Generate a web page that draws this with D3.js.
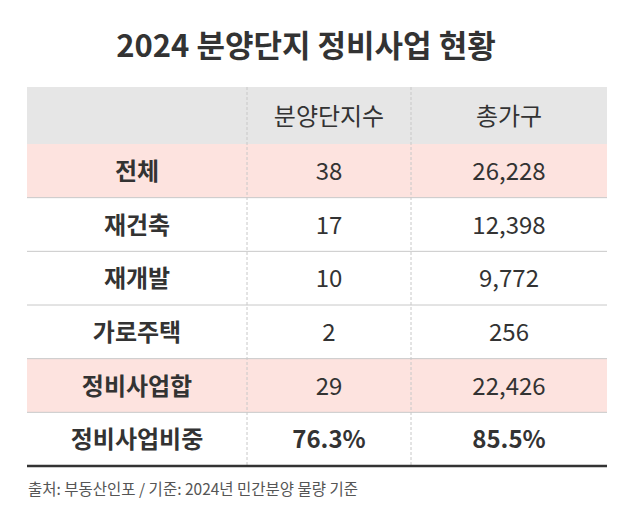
<!DOCTYPE html>
<html><head><meta charset="utf-8">
<script src="https://cdn.jsdelivr.net/npm/d3@7"></script>
<style>body{margin:0;background:#fff;font-family:"Noto Sans CJK KR","Noto Sans",sans-serif;}</style>
</head><body>
<script>
const title = "2024 분양단지 정비사업 현황";
const headers = ["", "분양단지수", "총가구"];
const rowLabels = ["전체", "재건축", "재개발", "가로주택", "정비사업합", "정비사업비중"];
const complexes = ["38", "17", "10", "2", "29", "76.3%"];
const households = ["26,228", "12,398", "9,772", "256", "22,426", "85.5%"];
const highlighted = ["전체", "정비사업합"];
const source = "출처: 부동산인포 / 기준: 2024년 민간분양 물량 기준";

const W = 636, H = 519;
const svg = d3.select("body").append("svg").attr("width", W).attr("height", H);

const x0 = 27, x1 = 607, tableTop = 87, headBottom = 144, tableBottom = 466;
const colEdges = [x0, 247, 411, x1];
const y = d3.scaleBand().domain(rowLabels).range([headBottom, tableBottom]);

svg.append("text").attr("x", 306).attr("y", 57).attr("text-anchor", "middle")
  .attr("font-size", 31).attr("font-weight", 700).attr("fill", "#333").text(title);

// header background
svg.append("rect").attr("x", x0).attr("y", tableTop).attr("width", x1 - x0)
  .attr("height", headBottom - tableTop).attr("fill", "#e6e6e6");

// row backgrounds
svg.selectAll(".rowbg").data(rowLabels).enter().append("rect")
  .attr("x", x0).attr("y", d => y(d)).attr("width", x1 - x0).attr("height", y.bandwidth())
  .attr("fill", d => highlighted.includes(d) ? "#fde3df" : "#fff");

// row lines
svg.selectAll(".rowline").data(rowLabels.slice(0, -1)).enter().append("line")
  .attr("x1", x0).attr("x2", x1)
  .attr("y1", d => y(d) + y.bandwidth()).attr("y2", d => y(d) + y.bandwidth())
  .attr("stroke", "#c8c8c8").attr("stroke-width", 1);

// dashed column separators
svg.selectAll(".colline").data(colEdges.slice(1, 3)).enter().append("line")
  .attr("x1", d => d).attr("x2", d => d).attr("y1", tableTop).attr("y2", tableBottom)
  .attr("stroke", "#c8c8c8").attr("stroke-dasharray", "3,2");

svg.append("line").attr("x1", x0).attr("x2", x1).attr("y1", tableBottom).attr("y2", tableBottom)
  .attr("stroke", "#333").attr("stroke-width", 2.5);

const cx = i => (colEdges[i] + colEdges[i + 1]) / 2;

svg.selectAll(".head").data(headers).enter().append("text")
  .attr("x", (d, i) => cx(i)).attr("y", (tableTop + headBottom) / 2 + 9)
  .attr("text-anchor", "middle").attr("font-size", 24).attr("fill", "#333").text(d => d);

rowLabels.forEach((lab, r) => {
  const last = r === rowLabels.length - 1;
  [lab, complexes[r], households[r]].forEach((v, i) => {
    svg.append("text").attr("x", cx(i)).attr("y", y(lab) + y.bandwidth() / 2 + 9)
      .attr("text-anchor", "middle").attr("font-size", 24)
      .attr("font-weight", (i === 0 || last) ? 700 : 400)
      .attr("fill", "#333").text(v);
  });
});

svg.append("text").attr("x", 28).attr("y", 495).attr("font-size", 15.5)
  .attr("fill", "#555").text(source);
</script>
</body></html>
